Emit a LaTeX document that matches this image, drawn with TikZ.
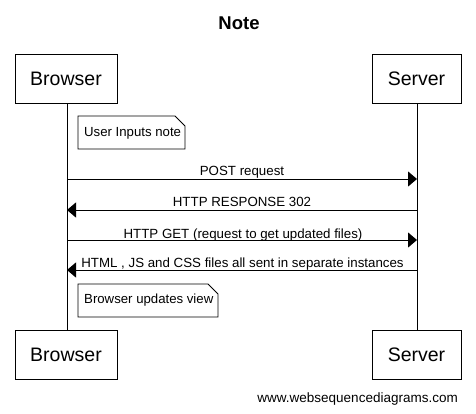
\documentclass[tikz,border=0pt]{standalone}
\usepackage{fontspec}
\setmainfont{Liberation Sans}
\usetikzlibrary{arrows.meta}
\begin{document}
\begin{tikzpicture}[x=1pt,y=-1pt,
  actor/.style={draw,line width=1pt,minimum width=102pt,minimum height=49pt,font=\fontsize{19.5}{22}\selectfont,inner sep=0pt},
  actorr/.style={actor,minimum width=89pt},
  life/.style={line width=1pt},
  msg/.style={line width=1pt,-{Triangle[length=9pt,width=15pt]}},
  mlabel/.style={font=\fontsize{13.3}{15}\selectfont,inner sep=0pt,anchor=base},
  notetext/.style={font=\fontsize{13.2}{15}\selectfont,inner sep=0pt,anchor=west}
]
\useasboundingbox (0,0) rectangle (476,413);
\fill[white] (0,0) rectangle (476,413);
\node[font=\bfseries\fontsize{18.5}{22}\selectfont,inner sep=0pt] (title) at (239,23) {Note};

\node[actor] (bt) at (66,78.5) {Browser};
\node[actorr] (st) at (416.5,78.5) {Server};
\node[actor] (bb) at (66,354.5) {Browser};
\node[actorr] (sb) at (416.5,354.5) {Server};

\coordinate (bl1) at (67,103);
\coordinate (bl2) at (67,330);
\coordinate (sl1) at (417,103);
\coordinate (sl2) at (417,330);
\draw[life] (bl1) -- (bl2);
\draw[life] (sl1) -- (sl2);

% note 1
\draw[line width=0.8pt,fill=white] (78,116) -- (175,116) -- (185,126) -- (185,149) -- (78,149) -- cycle;
\node[notetext] (n1) at (84,133) {User Inputs note};

% messages
\coordinate (m1a) at (67,179); \coordinate (m1b) at (417,179);
\draw[msg] (m1a) -- (m1b);
\node[mlabel] (l1) at (242,175) {POST request};

\coordinate (m2a) at (417,210); \coordinate (m2b) at (67,210);
\draw[msg] (m2a) -- (m2b);
\node[mlabel] (l2) at (242,206) {HTTP RESPONSE 302};

\coordinate (m3a) at (67,240); \coordinate (m3b) at (417,240);
\draw[msg] (m3a) -- (m3b);
\node[mlabel] (l3) at (243,238) {HTTP GET (request to get updated files)};

\coordinate (m4a) at (417,270); \coordinate (m4b) at (67,270);
\draw[msg] (m4a) -- (m4b);
\node[mlabel] (l4) at (242.5,267) {HTML , JS and CSS files all sent in separate instances};

% note 2
\draw[line width=0.8pt,fill=white] (78,284) -- (208,284) -- (218,294) -- (218,317) -- (78,317) -- cycle;
\node[notetext] (n2) at (84,300.5) {Browser updates view};

\node[font=\fontsize{13.5}{16}\selectfont,inner sep=0pt,anchor=east] (foot) at (458,399) {www.websequencediagrams.com};
\end{tikzpicture}
\end{document}
